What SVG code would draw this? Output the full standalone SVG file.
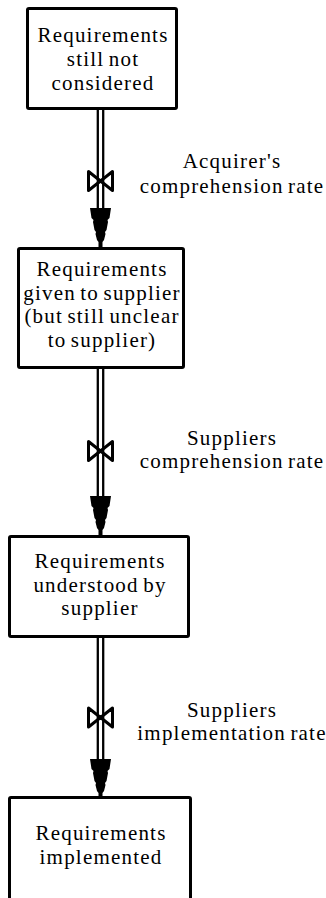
<svg xmlns="http://www.w3.org/2000/svg" width="326" height="898" viewBox="0 0 326 898">
<style>
.box{fill:#fff;stroke:#000;stroke-width:3;stroke-linejoin:round}
.t{font-family:"Liberation Serif","Times New Roman",serif;font-size:21px;letter-spacing:1.2px;word-spacing:-2px;fill:#000;text-anchor:middle}
.pipe{stroke:#000;stroke-width:2.3;fill:none}
.valve{fill:#fff;stroke:#000;stroke-width:3;stroke-linejoin:round}
</style>
<defs>
<path id="head" d="M -10.5 0 L 10.5 0 L 9 10 L 7 12 L 7.5 14 L 6 22 L 4.5 24 L 5 26 L 3.5 32 L 2 34 L 2 39 L -2 39 L -2 34 L -3.5 32 L -5 26 L -4.5 24 L -6 22 L -7.5 14 L -7 12 L -9 10 Z" fill="#000"/>
<path id="valve" class="valve" d="M -12 -9.5 L 0 0 L -12 9.5 Z M 12 -9.5 L 0 0 L 12 9.5 Z"/>
</defs>
<rect width="326" height="898" fill="#fff"/>
<g id="connectors">
<g id="flow1">
<use href="#valve" x="100.5" y="181"/>
<line class="pipe" x1="97.8" y1="110" x2="97.8" y2="210"/>
<line class="pipe" x1="103.2" y1="110" x2="103.2" y2="210"/>
<use href="#head" x="100.5" y="208"/>
<text class="t" x="232" y="168">Acquirer's</text>
<text class="t" x="232" y="193">comprehension rate</text>
</g>
<g id="flow2">
<use href="#valve" x="100.5" y="451"/>
<line class="pipe" x1="97.8" y1="369" x2="97.8" y2="497"/>
<line class="pipe" x1="103.2" y1="369" x2="103.2" y2="497"/>
<use href="#head" x="100.5" y="496"/>
<text class="t" x="232" y="445">Suppliers</text>
<text class="t" x="232" y="468">comprehension rate</text>
</g>
<g id="flow3">
<use href="#valve" x="100.5" y="717.5"/>
<line class="pipe" x1="97.8" y1="638" x2="97.8" y2="762"/>
<line class="pipe" x1="103.2" y1="638" x2="103.2" y2="762"/>
<use href="#head" x="100.5" y="759"/>
<text class="t" x="232" y="717">Suppliers</text>
<text class="t" x="232" y="740">implementation rate</text>
</g>
</g>
<g id="node1">
<rect class="box" x="27.5" y="8.5" width="149" height="100" rx="1.5"/>
<text class="t" x="103" y="42">Requirements</text>
<text class="t" x="103" y="66">still not</text>
<text class="t" x="103" y="90">considered</text>
</g>
<g id="node2">
<rect class="box" x="18.5" y="248.5" width="165" height="119" rx="1.5"/>
<text class="t" x="102" y="276">Requirements</text>
<text class="t" x="102" y="300">given to supplier</text>
<text class="t" x="102" y="323">(but still unclear</text>
<text class="t" x="102" y="347">to supplier)</text>
</g>
<g id="node3">
<rect class="box" x="9.5" y="536.5" width="179" height="100" rx="1.5"/>
<text class="t" x="100" y="568">Requirements</text>
<text class="t" x="100" y="592">understood by</text>
<text class="t" x="100" y="615">supplier</text>
</g>
<g id="node4">
<rect class="box" x="9.5" y="797.5" width="181" height="110" rx="1.5"/>
<text class="t" x="101" y="840">Requirements</text>
<text class="t" x="101" y="864">implemented</text>
</g>
</svg>
